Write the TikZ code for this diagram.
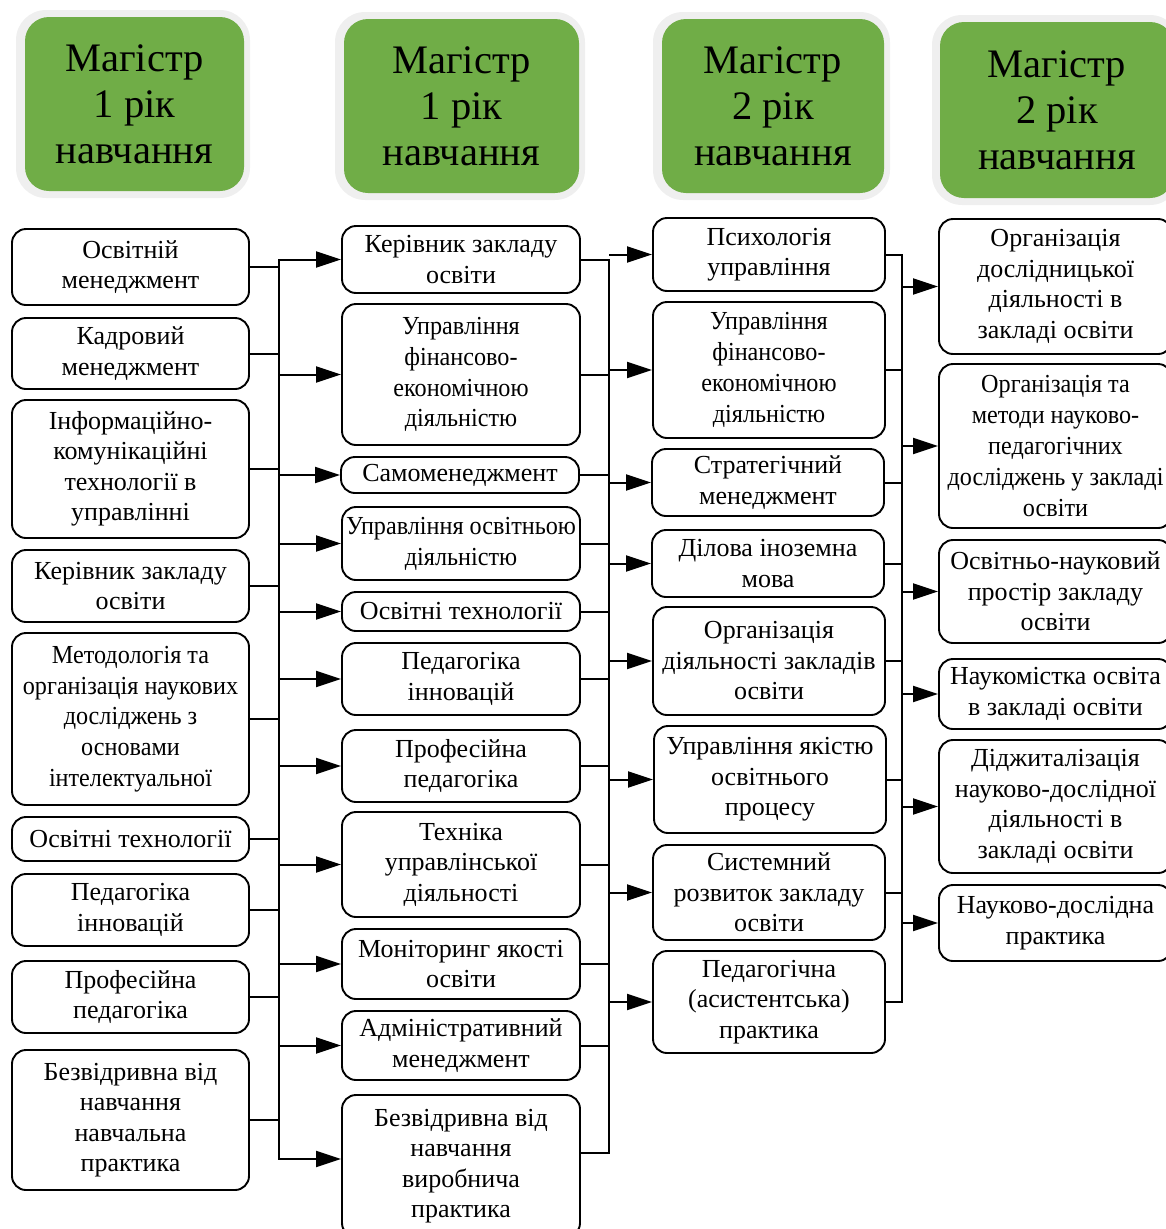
\documentclass[tikz,border=0pt]{standalone}
\usepackage{fontspec}
\setmainfont{Liberation Serif}
\newfontfamily\cond[FakeStretch=0.93]{Liberation Serif}
\usetikzlibrary{arrows.meta}
\definecolor{hdrgreen}{HTML}{70AD47}
\definecolor{halogray}{HTML}{EFEFEF}
\begin{document}
\begin{tikzpicture}[x=1pt,y=-1pt,
  box/.style={draw, line width=1.9pt, rounded corners=14pt, align=center, inner sep=0pt, font=\fontsize{26}{30.5}\selectfont},
  cbox/.style={box, font=\cond\fontsize{26}{30.8}\selectfont},
  hdr/.style={fill=hdrgreen, rounded corners=24pt, align=center, inner sep=0pt, font=\fontsize{40.5}{46}\selectfont},
  halo/.style={fill=halogray, rounded corners=30pt, inner sep=0pt},
  ln/.style={line width=2pt},
  arr/.style={line width=2pt, -{Triangle[length=25pt,width=16pt]}},
]
\useasboundingbox (0,0) rectangle (1166,1229);

% headers
\node[halo, minimum width=234pt, minimum height=188pt] (h1o) at (133,104) {};
\node[hdr, minimum width=219pt, minimum height=174pt] (h1) at (134.5,104) {Магістр\\1 рік\\навчання};
\node[halo, minimum width=250pt, minimum height=188pt] (h2o) at (460,106) {};
\node[hdr, minimum width=235pt, minimum height=174pt] (h2) at (461.5,106) {Магістр\\1 рік\\навчання};
\node[halo, minimum width=237pt, minimum height=188pt] (h3o) at (771.5,106) {};
\node[hdr, minimum width=222pt, minimum height=174pt] (h3) at (773,106) {Магістр\\2 рік\\навчання};
\node[halo, minimum width=248pt, minimum height=190pt] (h4o) at (1056,110) {};
\node[hdr, minimum width=234pt, minimum height=176pt] (h4) at (1057,110) {Магістр\\2 рік\\навчання};

% column 1
\node[box, minimum width=237pt, minimum height=76pt] (a1) at (130.5,267) {Освітній\\менеджмент};
\node[box, minimum width=237pt, minimum height=71pt] (a2) at (130.5,353.5) {Кадровий\\менеджмент};
\node[box, minimum width=237pt, minimum height=138pt] (a3) at (130.5,469) {Інформаційно-\\комунікаційні\\технології в\\управлінні};
\node[box, minimum width=237pt, minimum height=72pt] (a4) at (130.5,586) {Керівник закладу\\освіти};
\node[cbox, minimum width=237pt, minimum height=172pt] (a5) at (130.5,719) {Методологія та\\організація наукових\\досліджень з\\основами\\інтелектуальної};
\node[box, minimum width=237pt, minimum height=44pt] (a6) at (130.5,839) {Освітні технології};
\node[box, minimum width=237pt, minimum height=72pt] (a7) at (130.5,910) {Педагогіка\\інновацій};
\node[box, minimum width=237pt, minimum height=72pt] (a8) at (130.5,997) {Професійна\\педагогіка};
\node[box, minimum width=237pt, minimum height=140pt] (a9) at (130.5,1120) {Безвідривна від\\навчання\\навчальна\\практика};

% column 2
\node[box, minimum width=238pt, minimum height=67pt] (b1) at (461,259.5) {Керівник закладу\\освіти};
\node[cbox, minimum width=238pt, minimum height=141pt] (b2) at (461,374.5) {Управління\\фінансово-\\економічною\\діяльністю};
\node[box, minimum width=238pt, minimum height=36pt] (b3) at (460,475) {Самоменеджмент};
\node[cbox, minimum width=238pt, minimum height=73pt] (b4) at (461,543.5) {Управління освітньою\\діяльністю};
\node[box, minimum width=238pt, minimum height=39pt] (b5) at (461,611.5) {Освітні технології};
\node[box, minimum width=238pt, minimum height=72pt] (b6) at (461,679) {Педагогіка\\інновацій};
\node[box, minimum width=238pt, minimum height=72pt] (b7) at (461,766) {Професійна\\педагогіка};
\node[box, minimum width=238pt, minimum height=105pt] (b8) at (461,864.5) {Техніка\\управлінської\\діяльності};
\node[box, minimum width=238pt, minimum height=70pt] (b9) at (461,964) {Моніторинг якості\\освіти};
\node[box, minimum width=238pt, minimum height=69pt] (b10) at (461,1045.5) {Адміністративний\\менеджмент};
\node[box, minimum width=238pt, minimum height=142pt] (b11) at (461,1166) {Безвідривна від\\навчання\\виробнича\\практика};

% column 3
\node[box, minimum width=232pt, minimum height=73pt] (c1) at (769,254.5) {Психологія\\управління};
\node[cbox, minimum width=232pt, minimum height=136pt] (c2) at (769,370) {Управління\\фінансово-\\економічною\\діяльністю};
\node[box, minimum width=232pt, minimum height=67pt] (c3) at (768,482.5) {Стратегічний\\менеджмент};
\node[box, minimum width=232pt, minimum height=67pt] (c4) at (768,563.5) {Ділова іноземна\\мова};
\node[box, minimum width=232pt, minimum height=108pt] (c5) at (769,661) {Організація\\діяльності закладів\\освіти};
\node[box, minimum width=232pt, minimum height=107pt] (c6) at (770,779.5) {Управління якістю\\освітнього\\процесу};
\node[box, minimum width=232pt, minimum height=95pt] (c7) at (769,892.5) {Системний\\розвиток закладу\\освіти};
\node[box, minimum width=232pt, minimum height=102pt] (c8) at (769,1002) {Педагогічна\\(асистентська)\\практика};

% column 4
\node[box, minimum width=233pt, minimum height=135pt] (d1) at (1055.5,286.5) {Організація\\дослідницької\\діяльності в\\закладі освіти};
\node[cbox, minimum width=233pt, minimum height=164pt] (d2) at (1055.5,446) {Організація та\\методи науково-\\педагогічних\\досліджень у закладі\\освіти};
\node[box, minimum width=233pt, minimum height=103pt] (d3) at (1055.5,591.5) {Освітньо-науковий\\простір закладу\\освіти};
\node[box, minimum width=233pt, minimum height=70pt] (d4) at (1055.5,694) {Наукомістка освіта\\в закладі освіти};
\node[box, minimum width=233pt, minimum height=133pt] (d5) at (1055.5,806.5) {Діджиталізація\\науково-дослідної\\діяльності в\\закладі освіти};
\node[box, minimum width=233pt, minimum height=76pt] (d6) at (1055.5,923) {Науково-дослідна\\практика};

% buses
\coordinate (bus1) at (279,0);
\coordinate (bus2) at (609,0);
\coordinate (bus3) at (902,0);
\coordinate (b11in) at ([yshift=7pt]b11.west);
\coordinate (b11out) at ([yshift=13pt]b11.east);

% column 1 -> column 2
\foreach \n in {a1,a2,a3,a4,a5,a6,a7,a8,a9}
  \draw[ln] (\n.east) -- (\n.east -| bus1);
\draw[ln, line cap=rect] (bus1 |- b1.west) -- (bus1 |- b11in);
\foreach \n in {b1,b2,b3,b4,b5,b6,b7,b8,b9,b10}
  \draw[arr] (bus1 |- \n.west) -- (\n.west);
\draw[arr] (bus1 |- b11in) -- (b11in);

% column 2 -> column 3
\foreach \n in {b1,b2,b3,b4,b5,b6,b7,b8,b9,b10}
  \draw[ln] (\n.east) -- (\n.east -| bus2);
\draw[ln] (b11out) -- (b11out -| bus2);
\draw[ln, line cap=rect] (bus2 |- b1.east) -- (bus2 |- b11out);
\foreach \n in {c1,c2,c3,c4,c5,c6,c7,c8}
  \draw[arr] (bus2 |- \n.west) -- (\n.west);

% column 3 -> column 4
\foreach \n in {c1,c2,c3,c4,c5,c6,c7,c8}
  \draw[ln] (\n.east) -- (\n.east -| bus3);
\draw[ln, line cap=rect] (bus3 |- c1.east) -- (bus3 |- c8.east);
\foreach \n in {d1,d2,d3,d4,d5,d6}
  \draw[arr] (bus3 |- \n.west) -- (\n.west);
\end{tikzpicture}
\end{document}
